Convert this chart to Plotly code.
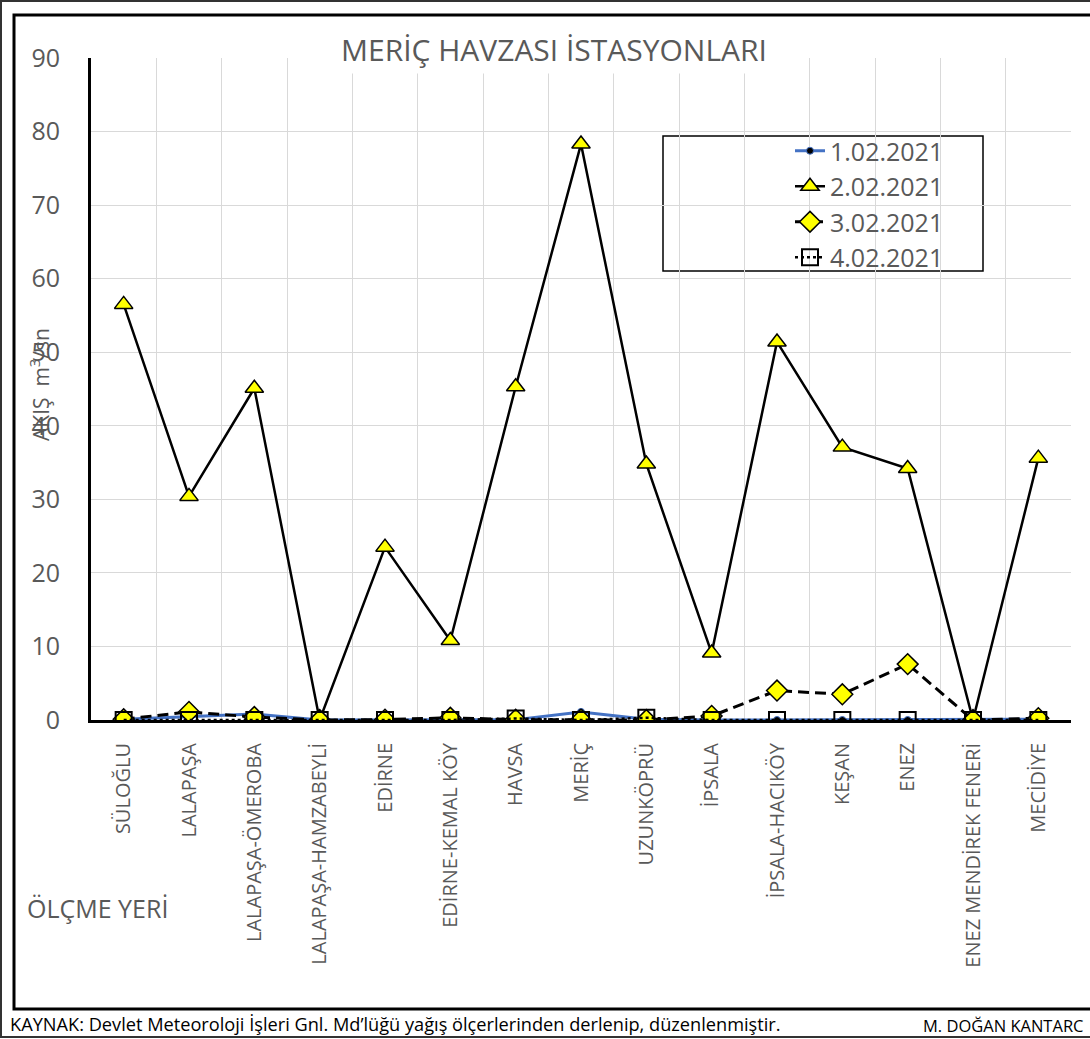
import plotly.graph_objects as go

# Measuring stations of the Meriç basin
stations = [
    "SÜLOĞLU", "LALAPAŞA", "LALAPAŞA-ÖMEROBA", "LALAPAŞA-HAMZABEYLİ", "EDİRNE",
    "EDİRNE-KEMAL KÖY", "HAVSA", "MERİÇ", "UZUNKÖPRÜ", "İPSALA",
    "İPSALA-HACIKÖY", "KEŞAN", "ENEZ", "ENEZ MENDİREK FENERİ", "MECİDİYE",
]

# Daily flow values (m³/sn)
flow_0102 = [0.1, 0.4, 0.8, 0.0, 0.05, 0.1, 0.05, 1.1, 0.1, 0.0, 0.0, 0.0, 0.0, 0.0, 0.1]
flow_0202 = [56.5, 30.4, 45.1, 0.0, 23.5, 10.8, 45.3, 78.3, 34.8, 9.1, 51.4, 37.1, 34.2, 0.0, 35.6]
flow_0302 = [0.1, 1.1, 0.4, 0.0, 0.05, 0.3, 0.05, 0.05, 0.0, 0.55, 4.0, 3.5, 7.6, 0.0, 0.25]
flow_0402 = [0.0, 0.0, 0.0, 0.0, 0.0, 0.0, 0.2, 0.0, 0.3, 0.0, 0.0, 0.0, 0.0, 0.0, 0.0]

series_names = ["1.02.2021", "2.02.2021", "3.02.2021", "4.02.2021"]

FONT = "Open Sans"
GRAY = "#595959"

W, H = 1090, 1039
L, R, T, B = 91, 1071, 58, 720  # plot area in pixels


def px(x):
    return (x - L) / (R - L)


def py(y):
    return (B - y) / (B - T)


fig = go.Figure()

fig.add_trace(go.Scatter(
    x=stations, y=flow_0102, name=series_names[0], mode="lines+markers",
    line=dict(color="#4472C4", width=3),
    marker=dict(symbol="circle", size=7, color="black",
                line=dict(color="#4472C4", width=1)),
))
fig.add_trace(go.Scatter(
    x=stations, y=flow_0202, name=series_names[1], mode="lines+markers",
    line=dict(color="black", width=2.5),
    marker=dict(symbol="triangle-up", size=16, color="#FFFF00",
                line=dict(color="black", width=1.5)),
))
fig.add_trace(go.Scatter(
    x=stations, y=flow_0302, name=series_names[2], mode="lines+markers",
    line=dict(color="black", width=3, dash="11px,6px"),
    marker=dict(symbol="diamond", size=16, color="#FFFF00",
                line=dict(color="black", width=1.5)),
))
fig.add_trace(go.Scatter(
    x=stations, y=flow_0402, name=series_names[3], mode="lines+markers",
    line=dict(color="black", width=2.5, dash="dot"),
    marker=dict(symbol="square", size=16, color="rgba(0,0,0,0)",
                line=dict(color="black", width=2)),
))

shapes = [
    # outer frame
    dict(type="rect", xref="paper", yref="paper",
         x0=px(1), x1=px(1100), y0=py(1037), y1=py(1),
         line=dict(color="#333333", width=2), layer="below"),
    # inner chart frame
    dict(type="rect", xref="paper", yref="paper",
         x0=px(14), x1=px(1100), y0=py(1009), y1=py(15),
         line=dict(color="black", width=3), layer="below"),
    # legend box
    dict(type="rect", xref="paper", yref="paper",
         x0=px(663), x1=px(983), y0=py(271), y1=py(136),
         line=dict(color="black", width=1.5), fillcolor="white", layer="below"),
]

annotations = [
    dict(text="MERİÇ HAVZASI İSTASYONLARI", xref="paper", yref="paper",
         x=px(554), y=py(49), xanchor="center", yanchor="middle", showarrow=False,
         font=dict(family=FONT, size=30, color=GRAY), bgcolor="white",
         borderpad=3),
    dict(text="AKIŞ  m<sup>3</sup>/sn", xref="paper", yref="paper",
         x=px(39), y=py(385), xanchor="center", yanchor="middle", showarrow=False,
         textangle=-90, font=dict(family=FONT, size=21, color=GRAY)),
    dict(text="ÖLÇME YERİ", xref="paper", yref="paper",
         x=px(25), y=py(908), xanchor="left", yanchor="middle", showarrow=False,
         font=dict(family=FONT, size=25, color=GRAY)),
    dict(text="KAYNAK: Devlet Meteoroloji İşleri Gnl. Md’lüğü yağış ölçerlerinden derlenip, düzenlenmiştir.",
         xref="paper", yref="paper",
         x=px(8), y=py(1024), xanchor="left", yanchor="middle", showarrow=False,
         font=dict(family=FONT, size=18.2, color="black")),
    dict(text="M. DOĞAN KANTARC", xref="paper", yref="paper",
         x=px(921), y=py(1025), xanchor="left", yanchor="middle", showarrow=False,
         font=dict(family=FONT, size=16.5, color="black")),
]

fig.update_layout(
    width=W, height=H,
    margin=dict(l=L, r=W - R, t=T, b=H - B, autoexpand=False),
    paper_bgcolor="white", plot_bgcolor="white",
    font=dict(family=FONT, color=GRAY),
    showlegend=True,
    legend=dict(
        x=px(790), y=py(128), xanchor="left", yanchor="top",
        bgcolor="rgba(0,0,0,0)", borderwidth=0,
        font=dict(family=FONT, size=25, color=GRAY),
        tracegroupgap=0, itemsizing="trace",
    ),
    xaxis=dict(
        type="category", tickson="boundaries", ticks="",
        range=[-0.5, len(stations) - 0.5],
        showgrid=True, gridcolor="#d9d9d9", gridwidth=1,
        showline=True, linecolor="black", linewidth=3,
        tickangle=-90, ticklabelstandoff=12,
        tickfont=dict(family=FONT, size=20, color=GRAY),
        zeroline=False,
    ),
    yaxis=dict(
        range=[0, 90], dtick=10, tick0=0,
        showgrid=True, gridcolor="#d9d9d9", gridwidth=1,
        showline=True, linecolor="black", linewidth=3,
        ticks="", ticklabelstandoff=23,
        tickfont=dict(family=FONT, size=25, color=GRAY),
        zeroline=False,
    ),
    shapes=shapes,
    annotations=annotations,
)

fig.write_html("out.html")
